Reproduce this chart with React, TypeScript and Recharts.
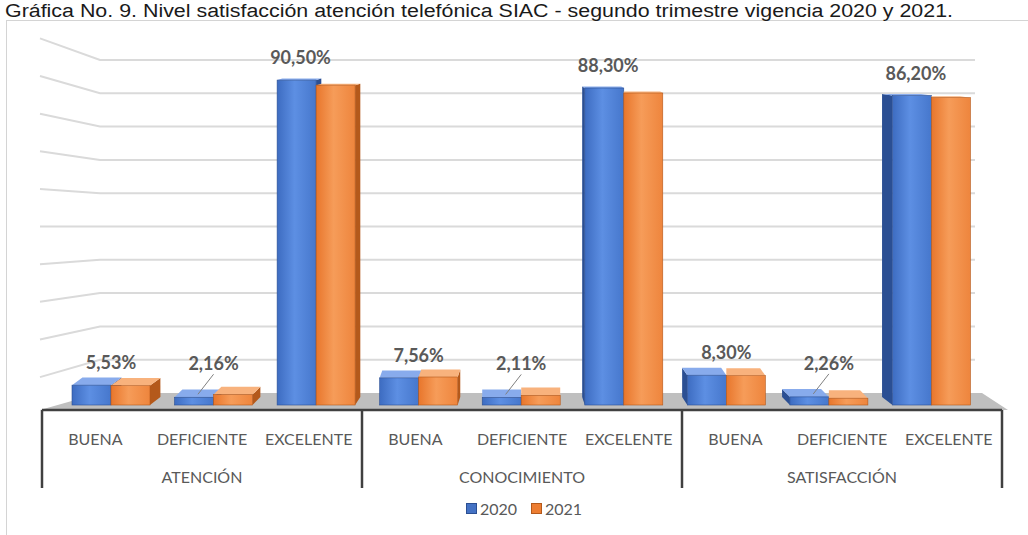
import React from 'react';
import { ComposedChart, Bar, XAxis, YAxis, CartesianGrid, ReferenceArea, LabelList, Legend } from 'recharts';

const TITULO = 'Gráfica No. 9. Nivel satisfacción atención telefónica SIAC - segundo trimestre vigencia 2020 y 2021.';

const CATEGORIAS = ['BUENA', 'DEFICIENTE', 'EXCELENTE', 'BUENA', 'DEFICIENTE', 'EXCELENTE', 'BUENA', 'DEFICIENTE', 'EXCELENTE'];
const GRUPOS = ['ATENCIÓN', 'CONOCIMIENTO', 'SATISFACCIÓN'];
const SERIES = ['2020', '2021'];
const VALORES_2020 = [5.53, 2.16, 90.5, 7.56, 2.11, 88.3, 8.3, 2.26, 86.2];
const VALORES_2021 = [5.4, 2.9, 89.1, 7.8, 2.7, 86.9, 8.2, 1.9, 85.6];
const LINEAS_GRID = [10, 20, 30, 40, 50, 60, 70, 80, 90, 100];

const data = CATEGORIAS.map((cat, i) => ({
  id: i,
  cat,
  grupo: GRUPOS[Math.floor(i / 3)],
  a2020: VALORES_2020[i],
  a2021: VALORES_2021[i],
}));

const COLORES: Record<string, any> = {
  '2020': { front: ['#3d6cc1', '#5d8fe3', '#4677cc'], top: '#88abec', side: '#2b4f93', legend: '#4472c4' },
  '2021': { front: ['#e8762c', '#f69c59', '#ee853d'], top: '#f8b27d', side: '#b4591b', legend: '#ed7d31' },
};

const TEXTO = '#595959';
const FUENTE = 'Lato, "Open Sans", sans-serif';

// barra "3D": cara frontal, lateral y superior
const Barra3D = (props: any) => {
  const { x, y, width: w, height: h, index, serie } = props;
  if (w == null || h == null || h <= 0) return null;
  const c = COLORES[serie];
  const dx = (4 - index) * 2.6;
  const dyTop = Math.max(1.5, (y - 40) * 0.022);
  const dyBot = Math.max(1.5, (y + h - 40) * 0.022);
  const pts = (a: number[][]) => a.map(p => p.join(',')).join(' ');
  let lado = null;
  if (dx > 0) {
    lado = <polygon points={pts([[x + w, y], [x + w + dx, y - dyTop], [x + w + dx, y + h - dyBot], [x + w, y + h]])} fill={c.side} />;
  } else if (dx < 0 && serie === '2020') {
    lado = <polygon points={pts([[x, y], [x + dx, y - dyTop], [x + dx, y + h - dyBot], [x, y + h]])} fill={c.side} />;
  }
  const izq = dx < 0 && serie === '2021' ? x : x + dx;
  return (
    <g>
      {lado}
      <polygon points={pts([[x, y], [x + w, y], [x + w + dx, y - dyTop], [izq, y - dyTop]])} fill={c.top} />
      <rect x={x} y={y} width={w} height={h} fill={`url(#frente${serie})`} stroke={c.side} strokeWidth={0.6} />
    </g>
  );
};

const Etiqueta = (props: any) => {
  const { x, y, width, value } = props;
  const alto = value > 50;
  const cx = alto ? x + width * 0.6 : x + width;
  const base = value < 3 ? y - 27 : y - 16;
  return (
    <g>
      {value < 3 && <line x1={x + width * 0.6} y1={y - 3} x2={cx} y2={base + 4} stroke="#7f7f7f" strokeWidth={1} />}
      <text x={cx} y={base} textAnchor="middle" fontFamily={FUENTE} fontWeight={700} fontSize={18} fill={TEXTO}>
        {value.toFixed(2).replace('.', ',')}%
      </text>
    </g>
  );
};

const TickCategoria = (props: any) => {
  const { x, y, payload } = props;
  const i = payload.value;
  const mitad = payload.offset || 53;
  return (
    <g>
      <text x={x} y={y + 35} textAnchor="middle" fontFamily={FUENTE} fontSize={16} fill={TEXTO}>{data[i].cat}</text>
      {i % 3 === 1 && (
        <text x={x} y={y + 73} textAnchor="middle" fontFamily={FUENTE} fontSize={16} fill={TEXTO}>{data[i].grupo}</text>
      )}
      {i % 3 === 0 && <line x1={x - mitad} y1={y} x2={x - mitad} y2={y + 78} stroke="#404040" strokeWidth={2.5} />}
      {i === data.length - 1 && <line x1={x + mitad} y1={y} x2={x + mitad} y2={y + 78} stroke="#404040" strokeWidth={2.5} />}
    </g>
  );
};

// lineas de la pared del fondo con su tramo en perspectiva
const LineaGrid = (props: any) => {
  const { x1, x2, y1, y, height } = props;
  if (Math.abs(y1 - y) < 3 || Math.abs(y1 - (y + height)) < 3) return <g key={props.key} />;
  const yl = 226 + (y1 - 226) * 1.13;
  return <polyline points={`${x1 - 2},${yl} ${x1 + 58},${y1} ${x2 - 27},${y1}`} fill="none" stroke="#dadada" strokeWidth={2} />;
};

const Piso = (props: any) => {
  const { x, y, width, height } = props;
  const p = [[x + 58, y], [x + width - 20, y], [x + width + 6, y + height], [x - 2, y + height]];
  return <polygon points={p.map(q => q.join(',')).join(' ')} fill="#bfbfbf" />;
};

const Leyenda = () => (
  <div style={{ display: 'flex', justifyContent: 'center', gap: 14, fontFamily: FUENTE, fontSize: 16, color: TEXTO }}>
    {SERIES.map(s => (
      <span key={s} style={{ display: 'flex', alignItems: 'center' }}>
        <span style={{ width: 9, height: 9, background: COLORES[s].legend, border: `1px solid ${COLORES[s].side}`, marginRight: 3 }} />
        {s}
      </span>
    ))}
  </div>
);

export default function App() {
  return (
    <div style={{ position: 'relative', width: 1028, height: 535, overflow: 'hidden', background: '#fff' }}>
      <style>{'body{margin:0}'}</style>
      <div style={{ position: 'absolute', left: 6, top: 20, width: 1100, height: 600, borderLeft: '1.5px solid #d4d4d4', borderTop: '1.5px solid #d4d4d4' }} />
      <svg width={1028} height={22} style={{ position: 'absolute', left: 0, top: 0 }}>
        <text x={5} y={16.5} fontFamily='"Liberation Sans", Arial, sans-serif' fontSize={18} fill="#1a1a1a" textLength={948} lengthAdjust="spacingAndGlyphs">
          {TITULO}
        </text>
      </svg>
      <div style={{ position: 'absolute', left: 0, top: 0 }}>
        <ComposedChart width={1028} height={535} data={data} margin={{ top: 46, right: 26, bottom: 45, left: 42 }} barGap={0} barSize={39}>
          <defs>
            {SERIES.map(s => (
              <linearGradient key={s} id={`frente${s}`} x1="0" y1="0" x2="1" y2="0">
                <stop offset="0%" stopColor={COLORES[s].front[0]} />
                <stop offset="45%" stopColor={COLORES[s].front[1]} />
                <stop offset="100%" stopColor={COLORES[s].front[2]} />
              </linearGradient>
            ))}
          </defs>
          <XAxis xAxisId="labels" dataKey="id" type="category" height={80} tickLine={false} tickSize={0} tickMargin={0}
            axisLine={{ stroke: '#404040', strokeWidth: 2.5 }} tick={<TickCategoria />} interval={0} />
          <XAxis xAxisId="bars" dataKey="id" type="category" hide height={0} padding={{ left: 18, right: 19 }} />
          <YAxis yAxisId="grid" hide domain={[-5.1, 104.2]} ticks={LINEAS_GRID} allowDataOverflow />
          <YAxis yAxisId="bars" hide domain={[-1.39, 100]} allowDataOverflow />
          <CartesianGrid xAxisId="labels" yAxisId="grid" vertical={false} horizontal={(p: any) => <LineaGrid key={p.key} {...p} />} />
          <ReferenceArea xAxisId="labels" yAxisId="grid" y1={0} y2={-5.1} ifOverflow="visible" shape={(p: any) => <Piso {...p} />} />
          <Bar xAxisId="bars" yAxisId="bars" dataKey="a2020" name="2020" fill={COLORES['2020'].legend} isAnimationActive={false}
            shape={(p: any) => <Barra3D {...p} serie="2020" />}>
            <LabelList dataKey="a2020" content={<Etiqueta />} />
          </Bar>
          <Bar xAxisId="bars" yAxisId="bars" dataKey="a2021" name="2021" fill={COLORES['2021'].legend} isAnimationActive={false}
            shape={(p: any) => <Barra3D {...p} serie="2021" />} />
          <Legend verticalAlign="middle" align="center" layout="horizontal" content={<Leyenda />}
            wrapperStyle={{ top: 499, left: 10, width: 1028 }} />
        </ComposedChart>
      </div>
    </div>
  );
}
